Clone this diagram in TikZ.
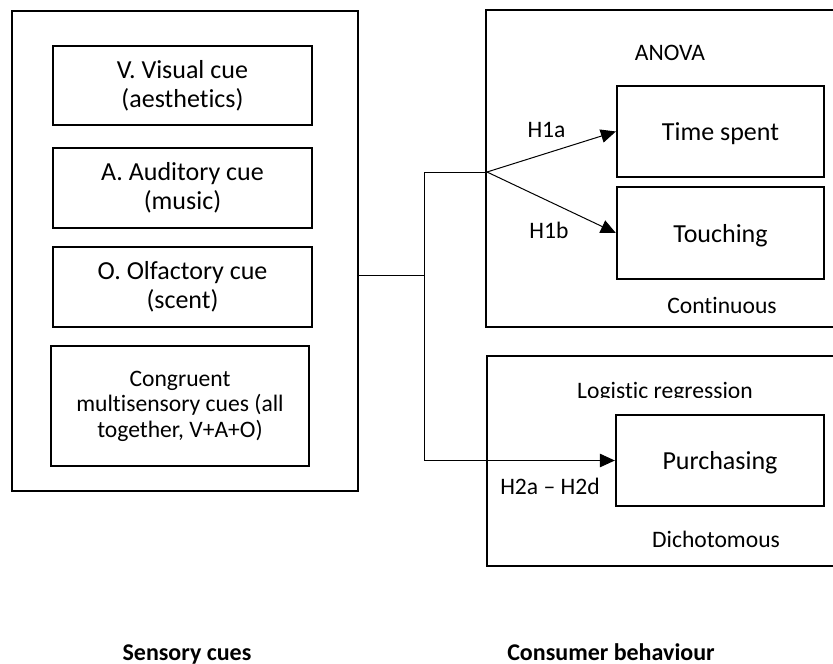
\documentclass[tikz,border=0pt]{standalone}
\usepackage{fontspec}
\setmainfont[RawFeature={-liga}]{Carlito}
\usetikzlibrary{arrows.meta}

\tikzset{
  frame/.style={draw, line width=2.3pt, rectangle, inner sep=0pt},
  cue/.style={frame, align=center, font=\fontsize{26}{29}\selectfont},
  cuesmall/.style={frame, align=center, font=\fontsize{23.6}{25.5}\selectfont},
  outcome/.style={frame, font=\fontsize{26}{27.5}\selectfont, text height=18pt, text depth=0pt},
  lbl/.style={anchor=base, inner sep=0pt, font=\fontsize{23.6}{25}\selectfont},
  heading/.style={anchor=base, inner sep=0pt, font=\fontsize{24}{26}\selectfont\bfseries},
  link/.style={line width=1pt},
  arr/.style={link, -{Triangle[length=15pt, width=13.5pt]}}
}

\begin{document}
\begin{tikzpicture}[x=1pt, y=-1pt]
\useasboundingbox (0,0) rectangle (833,664);

% sensory cues panel
\node[frame, minimum width=346pt, minimum height=480pt] (cues) at (185,251) {};
\node[cue, minimum width=259pt, minimum height=79pt] (visual) at (182.5,85.5) {V. Visual cue\\(aesthetics)};
\node[cue, minimum width=259pt, minimum height=80pt] (audio) at (182.5,188) {A. Auditory cue\\(music)};
\node[cue, minimum width=259pt, minimum height=80pt] (scent) at (182.5,287) {O. Olfactory cue\\(scent)};
\node[cuesmall, minimum width=258pt, minimum height=120pt] (multi) at (180,406) {Congruent\\multisensory cues (all\\together, V+A+O)};

% continuous outcomes panel
\node[frame, minimum width=354pt, minimum height=317pt] (cont) at (663,168.5) {};
\node[outcome, minimum width=207pt, minimum height=91pt] (time) at (720.5,131.5) {Time spent};
\node[outcome, minimum width=207pt, minimum height=92pt] (touch) at (720.5,233) {Touching};
\node[lbl] (anova) at (670,60) {ANOVA};
\node[lbl] (contlbl) at (722,313) {Continuous};

% dichotomous outcome panel
\node[frame, minimum width=353pt, minimum height=210pt] (dich) at (663.5,461) {};
\node[outcome, minimum width=208pt, minimum height=91pt] (purch) at (720,460.5) {Purchasing};
\begin{scope}
  \clip (560,370) rectangle (780,397);
  \node[lbl] (logit) at (665,398) {Logistic regression};
\end{scope}
\node[lbl] (dichlbl) at (716,547) {Dichotomous};

% connectors
\coordinate (split) at (424,275);
\coordinate (top) at (424,172);
\coordinate (fork) at (487,172);
\draw[link] (cues.east |- split) -- (split);
\draw[link] (fork) -- (top);
\draw[arr] (fork) -- (time.west);
\draw[arr] (fork) -- (touch.west);
\draw[arr] (top) |- (purch.west);

% hypothesis labels
\node[lbl] (h1a) at (546.5,137) {H1a};
\node[lbl] (h1b) at (549,238) {H1b};
\node[lbl] (h2) at (550,494) {H2a – H2d};

% panel headings
\node[heading] (senshead) at (187,660) {Sensory cues};
\node[heading] (conshead) at (611,660) {Consumer behaviour};
\end{tikzpicture}
\end{document}
